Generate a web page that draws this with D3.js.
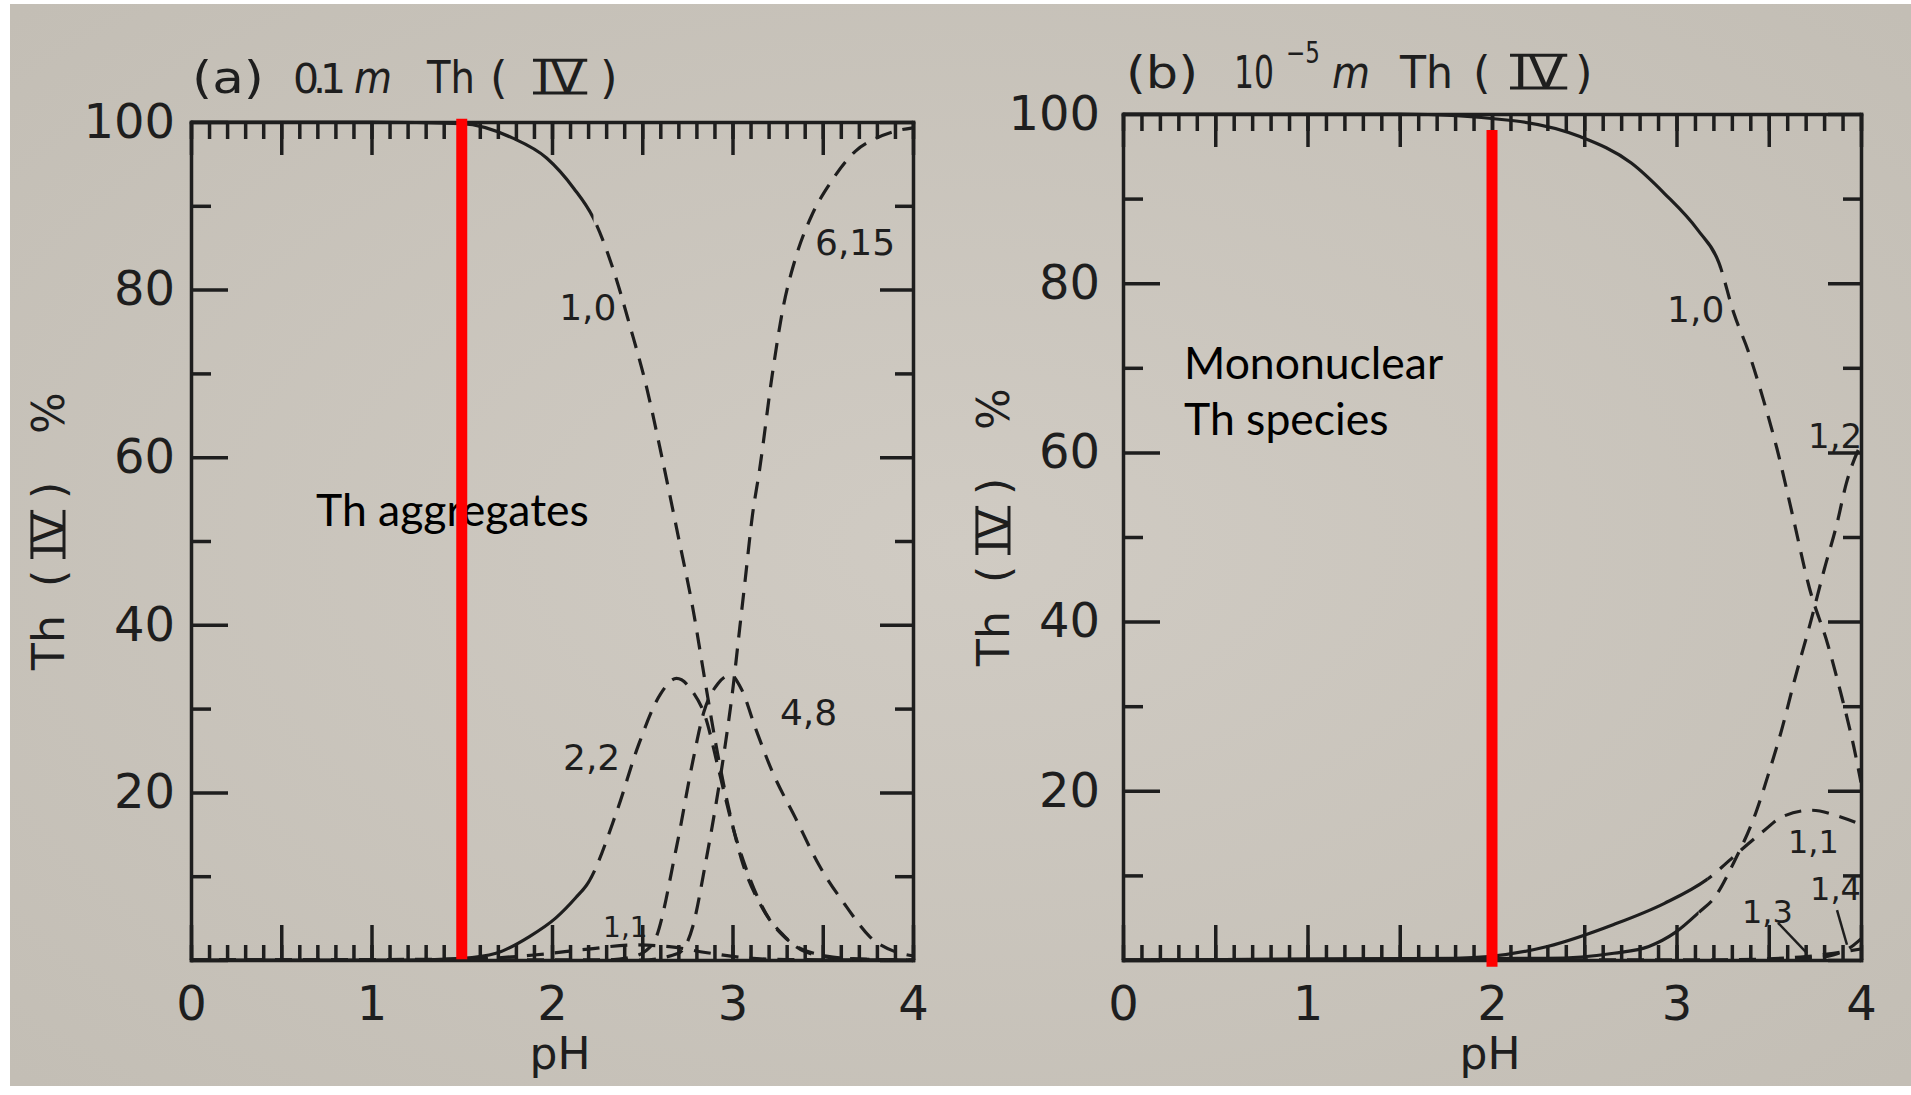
<!DOCTYPE html>
<html>
<head>
<meta charset="utf-8">
<script src="https://cdn.jsdelivr.net/npm/d3@7"></script>
<style>
  body { margin: 0; background: #fff; }
  svg text { font-family: 'DejaVu Sans', sans-serif; fill: #1e1e1e; }
  .axis path, .axis line { stroke: #1e1e1e; stroke-width: 3.5; }
  .axis text { font-size: 48px; }
  .note { font-family: 'Lato', sans-serif; fill: #000; }
</style>
</head>
<body>
<div id="plot"></div>
<script>
// axis ticks
const phLabels = [0, 1, 2, 3, 4];
const phHalf = [0, 0.5, 1, 1.5, 2, 2.5, 3, 3.5, 4];
const phTenths = d3.range(0, 41).map(i => i / 10);
const pctMajor = [0, 20, 40, 60, 80, 100];
const pctMinor = [10, 30, 50, 70, 90];

// (a) 0.1 m Th(IV): [pH, % Th]
const a_1_0 = [[0,100],[1.0,100],[1.5,99.8],[1.78,98.1],[1.97,95.7],[2.12,92.1],[2.23,88.5],[2.36,81],[2.43,75.8],[2.52,68.7],[2.61,59.9],[2.7,50.5],[2.78,42],[2.85,33],[2.91,25.5],[2.97,19],[3.05,12],[3.16,6.4],[3.28,3.0],[3.4,1.0],[3.6,0.2],[4,0]];
const a_2_2 = [[0,0],[1.2,0],[1.5,0.2],[1.69,0.8],[1.875,2.8],[2.02,5],[2.13,7.4],[2.2,9.2],[2.36,17.8],[2.48,25.7],[2.6,31.7],[2.69,33.6],[2.78,32],[2.85,29],[2.92,23],[3.0,16],[3.1,9.5],[3.2,5],[3.3,2.5],[3.45,0.8],[3.7,0.1],[4,0]];
const a_1_1 = [[0,0],[1.5,0.1],[1.9,0.6],[2.2,1.3],[2.45,1.8],[2.65,1.6],[2.85,0.9],[3.05,0.3],[3.3,0.05],[4,0]];
const a_4_8 = [[0,0],[2.3,0],[2.45,0.4],[2.56,2],[2.69,13.5],[2.78,23.7],[2.84,29.5],[2.92,33],[2.99,34],[3.05,32.3],[3.13,27.5],[3.22,22.5],[3.35,16.9],[3.48,11.3],[3.63,6.4],[3.76,2.8],[3.9,1.0],[4,0.5]];
const a_6_15 = [[0,0],[2.5,0],[2.7,0.8],[2.78,4],[2.85,11.5],[2.91,18.8],[2.96,25.7],[3.0,32],[3.04,39.6],[3.07,45.3],[3.11,53],[3.15,58.5],[3.22,69.8],[3.28,77.8],[3.35,83.8],[3.44,88.9],[3.535,92.5],[3.68,96.5],[3.79,98],[3.9,98.9],[4,99.3]];

// (b) 1e-5 m Th(IV)
const b_1_0 = [[0,100],[1.5,100],[2.12,99.2],[2.48,97.3],[2.755,94.2],[2.935,90.6],[3.115,86.3],[3.23,82.4],[3.31,76.5],[3.39,71.9],[3.47,66.3],[3.545,60.4],[3.63,52.5],[3.72,44],[3.82,37.3],[3.89,31.6],[3.96,25.3],[4,21]];
const b_1_1 = [[0,0],[1.8,0.2],[2.3,1.6],[2.66,4.2],[2.935,6.7],[3.17,9.6],[3.35,13],[3.48,15.4],[3.57,16.9],[3.73,17.7],[3.89,16.9],[4,16]];
const b_1_2 = [[0,0],[2.3,0.2],[2.66,0.8],[2.85,1.6],[2.99,3.2],[3.12,5.6],[3.21,7.5],[3.31,11.5],[3.43,17.4],[3.5,22.1],[3.57,27.2],[3.64,33.1],[3.73,40.2],[3.8,46.1],[3.87,51.6],[3.92,56.3],[4,61]];
const b_1_3 = [[0,0],[3.2,0],[3.5,0.15],[3.7,0.4],[3.85,0.8],[4,1.3]];
const b_1_4 = [[0,0],[3.5,0],[3.7,0.15],[3.85,0.6],[3.95,1.6],[4,2.5]];

// solid up to solidTo, dashed after
const seriesA = [
    {key: '1,0', pts: a_1_0, solidTo: 2.23},
    {key: '2,2', pts: a_2_2, solidTo: 2.2},
    {key: '1,1', pts: a_1_1, solidTo: 0},
    {key: '4,8', pts: a_4_8, solidTo: 0},
    {key: '6,15', pts: a_6_15, solidTo: 0}
];
const seriesB = [
    {key: '1,0', pts: b_1_0, solidTo: 3.23},
    {key: '1,1', pts: b_1_1, solidTo: 3.17},
    {key: '1,2', pts: b_1_2, solidTo: 3.12},
    {key: '1,3', pts: b_1_3, solidTo: 0},
    {key: '1,4', pts: b_1_4, solidTo: 0}
];

// curve labels in data units
const labelsA = [
    {t: '1,0', ph: 2.04, pct: 76.4, size: 36},
    {t: '6,15', ph: 3.457, pct: 84.1, size: 36},
    {t: '4,8', ph: 3.263, pct: 28.0, size: 36},
    {t: '2,2', ph: 2.061, pct: 22.7, size: 36},
    {t: '1,1', ph: 2.283, pct: 2.7, size: 28}
];
const labelsB = [
    {t: '1,0', ph: 2.949, pct: 75.4, size: 36},
    {t: '1,2', ph: 3.713, pct: 60.5, size: 34},
    {t: '1,1', ph: 3.604, pct: 12.6, size: 32},
    {t: '1,3', ph: 3.355, pct: 4.4, size: 32},
    {t: '1,4', ph: 3.724, pct: 7.1, size: 32}
];
const leadersB = [
    [[3.55, 4.4], [3.707, 0.8]],
    [[3.87, 5.9], [3.924, 1.8]]
];

// red markers: pH and vertical extent in %
const redA = {ph: 1.5, from: 0.1, to: 100.4};
const redB = {ph: 2.0, from: -0.8, to: 98.1};

const ink = '#1e1e1e';

const panels = [
    {id: 'a', x0: 191, x1: 913, y0: 960, y1: 122, series: seriesA, labels: labelsA, leaders: [], red: redA,
     yPad: 16, yTitle: [64, 534], phLabel: [560, 1069],
     title: [{t: '(a)', x: 192, w: 72}, {t: '0.1', x: 293, size: 41, ls: -6}, {t: 'm', x: 354, w: 38, it: true},
             {t: 'Th', x: 427, w: 48}, {t: '(', x: 490}, {t: 'IV', x: 536, w: 48, bars: true}, {t: ')', x: 600}],
     titleY: 93,
     note: {lines: ['Th aggregates'], x: 316, y: 526}},
    {id: 'b', x0: 1123, x1: 1861, y0: 960, y1: 114, series: seriesB, labels: labelsB, leaders: leadersB, red: redB,
     yPad: 23, yTitle: [1009, 530], phLabel: [1490, 1069],
     title: [{t: '(b)', x: 1126, w: 72}, {t: '10', x: 1234, w: 40}, {t: '\u22125', x: 1286, w: 34, sup: true},
             {t: 'm', x: 1332, w: 38, it: true}, {t: 'Th', x: 1400, w: 53}, {t: '(', x: 1473},
             {t: 'IV', x: 1513, w: 51, bars: true}, {t: ')', x: 1575}],
     titleY: 88,
     note: {lines: ['Mononuclear', 'Th species'], x: 1184, y: 379}}
];

const svg = d3.select('#plot')
    .append('svg')
    .attr('width', 1911)
    .attr('height', 1095);

const defs = svg.append('defs');

// scanned paper
const grad = defs.append('radialGradient')
    .attr('id', 'paper').attr('cx', '50%').attr('cy', '50%').attr('r', '70%');
grad.append('stop').attr('offset', '0%').attr('stop-color', '#d0cbc3');
grad.append('stop').attr('offset', '100%').attr('stop-color', '#c3beb5');
svg.append('rect').attr('x', 10).attr('y', 4).attr('width', 1901).attr('height', 1082)
    .attr('fill', 'url(#paper)');

// roman numeral with bars above and below
function addBars(g, node, size) {
    const bb = node.getBBox();
    const base = +node.getAttribute('y');
    const cap = 0.729 * size;
    [base - cap, base].forEach(yy => {
        g.append('line')
            .attr('x1', bb.x - 3).attr('x2', bb.x + bb.width + 3)
            .attr('y1', yy).attr('y2', yy)
            .attr('stroke', ink).attr('stroke-width', 3);
    });
}

panels.forEach(p => {
    const x = d3.scaleLinear().domain([0, 4]).range([p.x0, p.x1]);
    const y = d3.scaleLinear().domain([0, 100]).range([p.y0, p.y1]);
    const g = svg.append('g');

    // axes, ticks pointing inward
    g.append('g').attr('class', 'axis').attr('transform', `translate(${p.x0},0)`)
        .call(d3.axisLeft(y).tickValues(pctMajor).tickSize(-37).tickSizeOuter(0).tickPadding(p.yPad)
            .tickFormat(d => d === 0 ? '' : d));
    g.append('g').attr('class', 'axis').attr('transform', `translate(${p.x0},0)`)
        .call(d3.axisLeft(y).tickValues(pctMinor).tickSize(-20).tickFormat(() => ''))
        .call(a => a.select('.domain').remove());
    g.append('g').attr('class', 'axis').attr('transform', `translate(${p.x1},0)`)
        .call(d3.axisRight(y).tickValues(pctMajor).tickSize(-33).tickSizeOuter(0).tickFormat(() => ''));
    g.append('g').attr('class', 'axis').attr('transform', `translate(${p.x1},0)`)
        .call(d3.axisRight(y).tickValues(pctMinor).tickSize(-18).tickFormat(() => ''))
        .call(a => a.select('.domain').remove());

    g.append('g').attr('class', 'axis').attr('transform', `translate(0,${p.y0})`)
        .call(d3.axisBottom(x).tickValues(phHalf).tickSize(-35).tickSizeOuter(0).tickPadding(26)
            .tickFormat(d => phLabels.includes(d) ? d : ''));
    g.append('g').attr('class', 'axis').attr('transform', `translate(0,${p.y0})`)
        .call(d3.axisBottom(x).tickValues(phTenths).tickSize(-15).tickFormat(() => ''))
        .call(a => a.select('.domain').remove());
    g.append('g').attr('class', 'axis').attr('transform', `translate(0,${p.y1})`)
        .call(d3.axisTop(x).tickValues(phHalf).tickSize(-33).tickSizeOuter(0).tickFormat(() => ''));
    g.append('g').attr('class', 'axis').attr('transform', `translate(0,${p.y1})`)
        .call(d3.axisTop(x).tickValues(phTenths).tickSize(-17).tickFormat(() => ''))
        .call(a => a.select('.domain').remove());

    g.selectAll('.axis').attr('font-family', null).attr('font-size', null);
    g.selectAll('.axis path').attr('stroke-linecap', 'square');

    // curves: one smooth path, clipped into solid and dashed parts
    const line = d3.line()
        .x(d => x(d[0]))
        .y(d => y(d[1]))
        .curve(d3.curveMonotoneX);

    p.series.forEach((s, i) => {
        const split = x(s.solidTo);
        const cs = `clip-${p.id}-${i}-s`;
        const cd = `clip-${p.id}-${i}-d`;
        defs.append('clipPath').attr('id', cs).append('rect')
            .attr('x', p.x0 - 20).attr('y', 0).attr('width', split - p.x0 + 20).attr('height', 1095);
        defs.append('clipPath').attr('id', cd).append('rect')
            .attr('x', split).attr('y', 0).attr('width', p.x1 - split + 20).attr('height', 1095);

        if (s.solidTo > 0) {
            g.append('path').datum(s.pts)
                .attr('d', line).attr('fill', 'none')
                .attr('clip-path', `url(#${cs})`)
                .attr('stroke', ink).attr('stroke-width', 3.2);
        }
        g.append('path').datum(s.pts)
            .attr('d', line).attr('fill', 'none')
            .attr('clip-path', `url(#${cd})`)
            .attr('stroke', ink).attr('stroke-width', 3.2)
            .attr('stroke-dasharray', '17,11');
    });

    g.selectAll('.lbl')
        .data(p.labels)
        .enter()
        .append('text')
        .attr('class', 'lbl')
        .attr('x', d => x(d.ph))
        .attr('y', d => y(d.pct))
        .attr('font-size', d => d.size)
        .text(d => d.t);

    g.selectAll('.leader')
        .data(p.leaders)
        .enter()
        .append('path')
        .attr('class', 'leader')
        .attr('d', d3.line().x(d => x(d[0])).y(d => y(d[1])))
        .attr('stroke', ink).attr('stroke-width', 2.5);

    // panel title
    p.title.forEach(c => {
        const size = c.size || (c.sup ? 30 : 45);
        const t = g.append('text')
            .attr('x', c.x)
            .attr('y', c.sup ? p.titleY - 25 : p.titleY)
            .attr('font-size', size)
            .attr('font-style', c.it ? 'italic' : null)
            .attr('letter-spacing', c.ls || null)
            .text(c.t);
        if (c.w) t.attr('textLength', c.w).attr('lengthAdjust', 'spacingAndGlyphs');
        if (c.bars) addBars(g, t.node(), size);
    });

    // y title, rotated
    const yt = g.append('g')
        .attr('transform', `translate(${p.yTitle[0]},${p.yTitle[1]}) rotate(-90)`);
    [{t: 'Th', x: -136}, {t: '(', x: -53}, {t: 'IV', x: -22, bars: true}, {t: ')', x: 35}, {t: '%', x: 100}]
        .forEach(c => {
            const t = yt.append('text').attr('x', c.x).attr('y', 0).attr('font-size', 44).text(c.t);
            if (c.bars) addBars(yt, t.node(), 44);
        });

    g.append('text')
        .attr('x', p.phLabel[0]).attr('y', p.phLabel[1])
        .attr('text-anchor', 'middle')
        .attr('font-size', 44)
        .text('pH');

    // added annotation
    p.note.lines.forEach((l, i) => {
        g.append('text')
            .attr('class', 'note')
            .attr('x', p.note.x)
            .attr('y', p.note.y + i * 56)
            .attr('font-size', 44.5)
            .text(l);
    });

    g.append('line')
        .attr('x1', x(p.red.ph)).attr('x2', x(p.red.ph))
        .attr('y1', y(p.red.from)).attr('y2', y(p.red.to))
        .attr('stroke', '#ff0000')
        .attr('stroke-width', 11);
});
</script>
</body>
</html>
